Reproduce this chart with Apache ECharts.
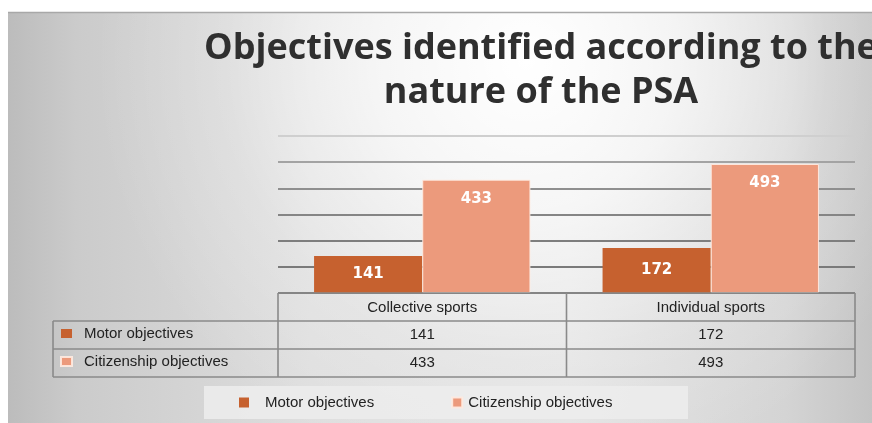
<!DOCTYPE html>
<html><head><meta charset="utf-8">
<script src="https://cdn.jsdelivr.net/npm/echarts@6/dist/echarts.min.js"></script>
<style>html,body{margin:0;padding:0;background:#fff}#c{width:872px;height:423px}</style>
</head><body><div id="c"></div>
<script>
const titleText = 'Objectives identified according to the\nnature of the PSA';
const categories = ['Collective sports', 'Individual sports'];
const seriesNames = ['Motor objectives', 'Citizenship objectives'];
const motorValues = [141, 172];
const citizenshipValues = [433, 493];
const yTicks = {min: 0, max: 600, interval: 100};

const colors = ['#C6612F', '#EC9A7C'];
const G = {left: 278, right: 855, top: 136, base: 293, row: 28, tableLeft: 53};
const lineColor = '#8a8a8a';

const chart = echarts.init(document.getElementById('c'));
const tableLines = [];
function hl(x1, x2, y) { tableLines.push({type: 'line', z: 50, shape: {x1, y1: y, x2, y2: y}, style: {stroke: lineColor, lineWidth: 1.6}}); }
function vl(x, y1, y2) { tableLines.push({type: 'line', z: 50, shape: {x1: x, y1, x2: x, y2}, style: {stroke: lineColor, lineWidth: 1.6}}); }
hl(G.left, G.right, G.base);
hl(G.tableLeft, G.right, G.base + G.row);
hl(G.tableLeft, G.right, G.base + 2 * G.row);
hl(G.tableLeft, G.right, G.base + 3 * G.row);
vl(G.tableLeft, G.base + G.row, G.base + 3 * G.row);
vl(G.left, G.base, G.base + 3 * G.row);
vl((G.left + G.right) / 2, G.base, G.base + 3 * G.row);
vl(G.right, G.base, G.base + 3 * G.row);

const tableAxisLabel = {color: '#222', fontSize: 15, fontFamily: 'Liberation Sans', margin: 7};
function valueAxis(data, offset) {
  return {type: 'category', data: data.map(String), position: 'bottom', offset: offset,
    axisLine: {show: false}, axisTick: {show: false}, axisLabel: Object.assign({}, tableAxisLabel, {margin: 6}),
    splitLine: {show: false}};
}
const legendText = {fontFamily: 'Liberation Sans', fontSize: 15, color: '#222', lineHeight: 15};

chart.setOption({
  animation: false,
  backgroundColor: '#ffffff',
  title: {
    text: titleText, left: 536, top: 22, textAlign: 'center',
    textStyle: {fontFamily: 'Open Sans', fontWeight: 'bold', fontSize: 36, color: '#2f2f2f', lineHeight: 44}
  },
  graphic: [
    {type: 'rect', z: -10, silent: true, shape: {x: 8, y: 12, width: 864, height: 411},
      style: {fill: {type: 'linear', x: 0, y: 0, x2: 1, y2: 0,
        colorStops: [{offset: 0, color: '#bcbcbc'}, {offset: 0.08, color: '#cbcbcb'}, {offset: 0.35, color: '#dedede'},
          {offset: 0.65, color: '#e2e2e2'}, {offset: 0.9, color: '#d4d4d4'}, {offset: 1, color: '#c4c4c4'}]}}},
    {type: 'rect', z: -9, silent: true, shape: {x: 8, y: 12, width: 864, height: 411},
      style: {fill: {type: 'radial', x: 0.6, y: 0.12, r: 1.05,
        colorStops: [{offset: 0, color: 'rgba(255,255,255,1)'}, {offset: 0.35, color: 'rgba(255,255,255,0.7)'},
          {offset: 0.7, color: 'rgba(255,255,255,0.2)'}, {offset: 1, color: 'rgba(255,255,255,0)'}]}}},
    {type: 'line', z: -8, shape: {x1: 8, y1: 12.5, x2: 872, y2: 12.5}, style: {stroke: '#a8a8a8', lineWidth: 1.5}},
    {type: 'rect', z: -8, shape: {x: 204, y: 386, width: 484, height: 33}, style: {fill: 'rgba(236,236,236,0.9)'}}
  ].concat(tableLines),
  legend: [
    {data: [{name: seriesNames[0], textStyle: {padding: [0, 0, 0, 11]}},
            {name: seriesNames[1], textStyle: {padding: [0, 0, 0, 1]}}],
      left: 239, top: 395, padding: 0, itemWidth: 10, itemHeight: 10, itemGap: 77, icon: 'rect',
      textStyle: legendText},
    {data: seriesNames, orient: 'vertical', left: 60, top: G.base + G.row + 5, padding: 0, itemWidth: 11, itemHeight: 9,
      itemGap: 13, icon: 'rect',
      textStyle: Object.assign({padding: [0, 0, 0, 7]}, legendText)}
  ],
  grid: {left: G.left, right: 872 - G.right, top: G.top, bottom: 423 - G.base},
  xAxis: [
    {type: 'category', data: categories, position: 'bottom', axisLine: {show: false}, axisTick: {show: false},
      axisLabel: tableAxisLabel},
    valueAxis(motorValues, G.row),
    valueAxis(citizenshipValues, 2 * G.row)
  ],
  yAxis: {type: 'value', min: yTicks.min, max: yTicks.max, interval: yTicks.interval,
    axisLabel: {show: false}, axisLine: {show: false}, axisTick: {show: false},
    splitLine: {lineStyle: {width: 2, color: ['#7a7a7a', '#7a7a7a', '#7e7e7e', '#858585', '#8f8f8f', '#a3a3a3', '#cfcfcf']}}},
  series: [
    {name: seriesNames[0], type: 'bar', data: motorValues, barGap: '0%', barCategoryGap: '25%',
      itemStyle: {color: colors[0]},
      label: {show: true, position: 'inside', color: '#fff', fontFamily: 'DejaVu Sans', fontWeight: 'bold', fontSize: 15}},
    {name: seriesNames[1], type: 'bar', data: citizenshipValues,
      itemStyle: {color: colors[1], borderColor: 'rgba(255,235,225,0.9)', borderWidth: 1},
      label: {show: true, position: 'insideTop', distance: 12, color: '#fff', fontFamily: 'DejaVu Sans', fontWeight: 'bold', fontSize: 15}}
  ]
});
</script></body></html>
